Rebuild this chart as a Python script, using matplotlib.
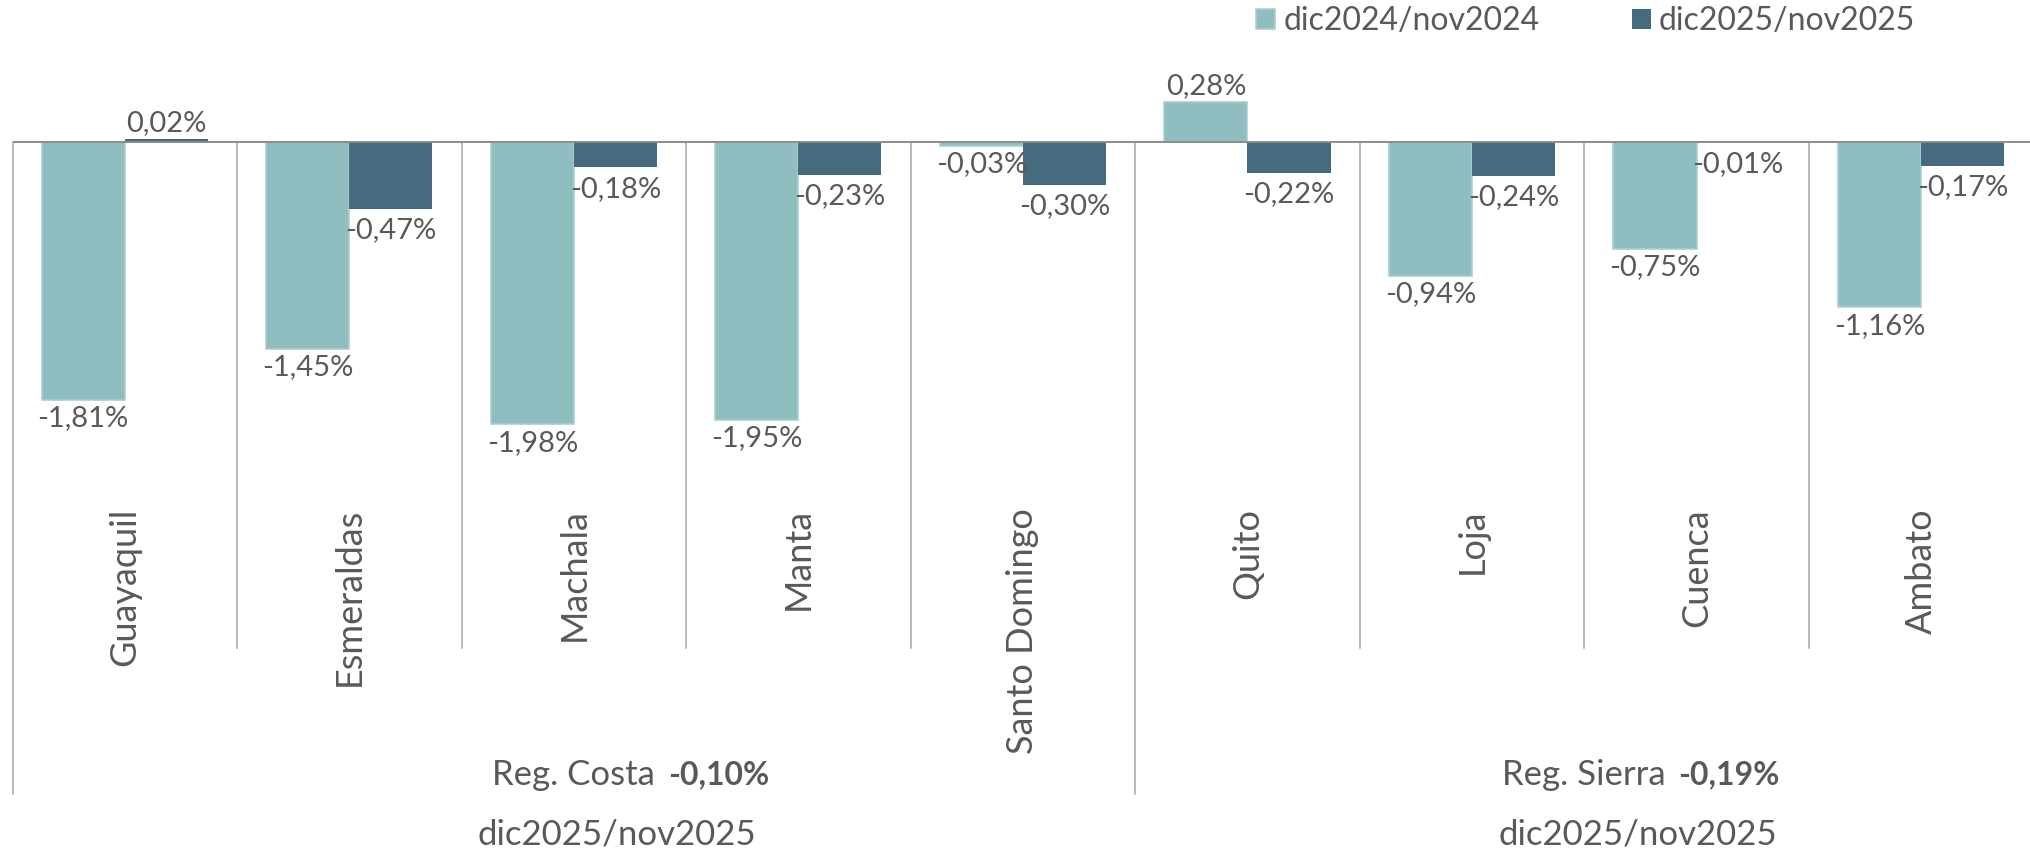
import numpy as np
import matplotlib.pyplot as plt
from matplotlib.transforms import blended_transform_factory

cities = ['Guayaquil', 'Esmeraldas', 'Machala', 'Manta', 'Santo Domingo',
          'Quito', 'Loja', 'Cuenca', 'Ambato']
series_names = ['dic2024/nov2024', 'dic2025/nov2025']
var_2024 = [-1.81, -1.45, -1.98, -1.95, -0.03, 0.28, -0.94, -0.75, -1.16]
var_2025 = [0.02, -0.47, -0.18, -0.23, -0.30, -0.22, -0.24, -0.01, -0.17]
regions = ['Reg. Costa', 'Reg. Sierra']
region_sizes = [5, 4]
region_values = ['-0,10%', '-0,19%']
period_label = 'dic2025/nov2025'

light = '#8FBDC0'
dark = '#476B7E'
txt = '#595959'
grid = '#A6A6A6'

plt.rcParams['font.family'] = 'Lato'

W, H = 2030, 851
fig = plt.figure(figsize=(W / 100, H / 100), dpi=100)
ax = fig.add_axes([12.5 / W, 1 - 440 / H, 9 * 224.54 / W, 380 / H])

x = np.arange(len(cities))
bw = 0.37
b1 = ax.bar(x - bw / 2, var_2024, bw, color=light, edgecolor='#AACFD1', linewidth=1.2,
            label=series_names[0])
b2 = ax.bar(x + bw / 2, var_2025, bw, color=dark, label=series_names[1])

ax.set_xlim(-0.5, len(cities) - 0.5)
ax.set_ylim(-2.0905, 0.5725)
ax.axis('off')

ax.axhline(0, color='#8C8C8C', linewidth=1.4, zorder=3)


def fmt(v):
    return f'{v:.2f}'.replace('.', ',') + '%'


for offset, values, gap in ((-bw / 2, var_2024, -4), (bw / 2, var_2025, -6)):
    for i, v in enumerate(values):
        if v >= 0:
            ax.annotate(fmt(v), (i + offset, v), xytext=(0, 2), textcoords='offset points',
                        ha='center', va='bottom', fontsize=21, color=txt)
        else:
            ax.annotate(fmt(v), (i + offset, v), xytext=(0, gap), textcoords='offset points',
                        ha='center', va='top', fontsize=21, color=txt)

# multi-level category axis
tr = blended_transform_factory(ax.transData, fig.transFigure)
y_zero = 1 - 141.7 / H
y_tick = 1 - 647.7 / H
y_group = 1 - 794 / H

starts = np.cumsum([0] + region_sizes)
for b in range(len(cities) + 1):
    xb = b - 0.5
    bottom = y_group if b in starts else y_tick
    ax.plot([xb, xb], [y_zero, bottom], transform=tr, color=grid, linewidth=1.1,
            clip_on=False)

for i, name in enumerate(cities):
    ax.text(i, 1 - 508 / H, name, transform=tr, rotation=90, ha='center', va='top',
            fontsize=26, color=txt)

for k, reg in enumerate(regions):
    center = (starts[k] + starts[k + 1]) / 2 - 0.5
    t = ax.text(center, 1 - 775 / H, reg, transform=tr, ha='center', va='center',
                fontsize=25, color=txt)
    ax.annotate(region_values[k], xy=(1, 0.5), xycoords=t, xytext=(9, 0),
                textcoords='offset points', ha='left', va='center',
                fontsize=23, fontweight='bold', color=txt)
    ax.text(center + 0.19 + 0.05 * k, 1 - 834 / H, period_label, transform=tr,
            ha='center', va='center', fontsize=25, color=txt)

fig.legend(handles=[b1, b2], labels=series_names, loc='center left',
           bbox_to_anchor=(1256 / W, 1 - 21 / H), ncol=2, frameon=False,
           fontsize=23, labelcolor=txt, handlelength=0.6, handleheight=0.6,
           handletextpad=0.25, columnspacing=2.9, borderpad=0, borderaxespad=0)

fig.savefig('out.png', dpi=100)
